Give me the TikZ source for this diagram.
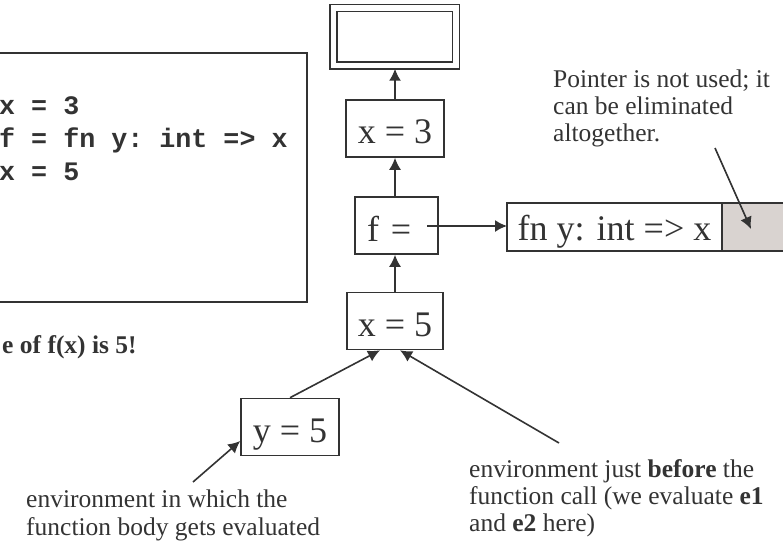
\documentclass[tikz,border=0pt]{standalone}
\usepackage{fontspec}
\setmainfont{Liberation Serif}
\setmonofont{Liberation Mono}
\usetikzlibrary{arrows.meta}
\definecolor{ink}{RGB}{51,51,51}
\definecolor{cellgrey}{RGB}{217,211,208}
\tikzstyle{envbox}=[draw=ink,line width=1.6pt,text=ink,font=\fontsize{36}{36}\selectfont,inner xsep=0pt,inner ysep=0pt,text height=44pt,text depth=13pt]
\tikzstyle{link}=[draw=ink,line width=1.6pt,-{Latex[length=12pt,width=12pt]}]
\tikzstyle{note}=[font=\fontsize{25.5}{27}\selectfont,text=ink,inner sep=0pt,anchor=base west]
\tikzstyle{codeline}=[font=\ttfamily\bfseries\fontsize{26.7}{32}\selectfont,text=ink,inner sep=0pt,anchor=base west]

\begin{document}
\begin{tikzpicture}[x=1pt,y=-1pt]
    \useasboundingbox (0,0) rectangle (783,548);
    \clip (0,0) rectangle (783,548);
    % the program, cut at the left edge
    \node[draw=ink,line width=1.6pt,minimum width=327pt,minimum height=249pt] (listing) at (143.5,177.5) {};
    \foreach \pos/\name/\txt in {{(-1,115)/c1/{x = 3}}, {(-1,148)/c2/{f = fn y: int => x}}, {(-1,180)/c3/{x = 5}}}
        \node[codeline] (\name) at \pos {\txt};
    \node[note,font=\fontsize{25.5}{27}\selectfont\bfseries] (result note) at (2,353) {e of f(x) is 5!};

    % the environments
    \node[draw=ink,line width=1.5pt,double,double distance=5.5pt,minimum width=122.5pt,minimum height=57.5pt] (top) at (394.75,36.75) {};
    \node[envbox,minimum width=98pt] (x3) at (395,128.5) {x = 3};
    \node[envbox,text width=59pt,align=left,inner xsep=12pt] (f) at (396.5,225.5) {f =};
    \node[envbox,minimum width=96pt] (x5) at (395,321) {x = 5};
    \node[envbox,minimum width=98pt] (y5) at (290,427) {y = 5};
    \node[envbox,minimum width=215pt,text height=37pt,text depth=11pt,outer sep=0pt] (fn) at (614.5,227) {fn y: int => x};
    \node[draw=ink,line width=1.6pt,fill=cellgrey,outer sep=0pt,anchor=west,minimum width=80pt,minimum height=48pt] (ptr) at (fn.east) {};

    % links between the environments
    \path[link,shorten >=2.5pt] (x3) -- (top.south -| x3);
    \path[link] (f.north -| x3) -- (x3);
    \path[link] (x5) -- (f.south -| x3);
    \coordinate (fptr) at (427,226);
    \path[link] (fptr) -- (fptr -| fn.west);
    \path[link] (y5.north) -- ([xshift=-15pt]x5.south);

    % notes
    \foreach \pos/\name/\txt in {{(553,88)/p1/{Pointer is not used; it}}, {(553,115)/p2/{can be eliminated}}, {(553,142)/p3/{altogether.}},
                                 {(469,477)/b1/{environment just \textbf{before} the}}, {(469,504)/b2/{function call (we evaluate \textbf{e1}}}, {(469,531)/b3/{and \textbf{e2} here)}},
                                 {(26,507)/e1/{environment in which the}}, {(26,535)/e2/{function body gets evaluated}}}
        \node[note] (\name) at \pos {\txt};
    \coordinate (ptrnote) at (715,148);
    \coordinate (callnote) at (559,443);
    \coordinate (bodynote) at (193,482);
    \path[link] (ptrnote) -- ([xshift=-11pt,yshift=-2pt] ptr.center);
    \path[link] (callnote) -- ([xshift=5pt] x5.south);
    \path[link] (bodynote) -- ([yshift=-14pt] y5.west);
\end{tikzpicture}
\end{document}
